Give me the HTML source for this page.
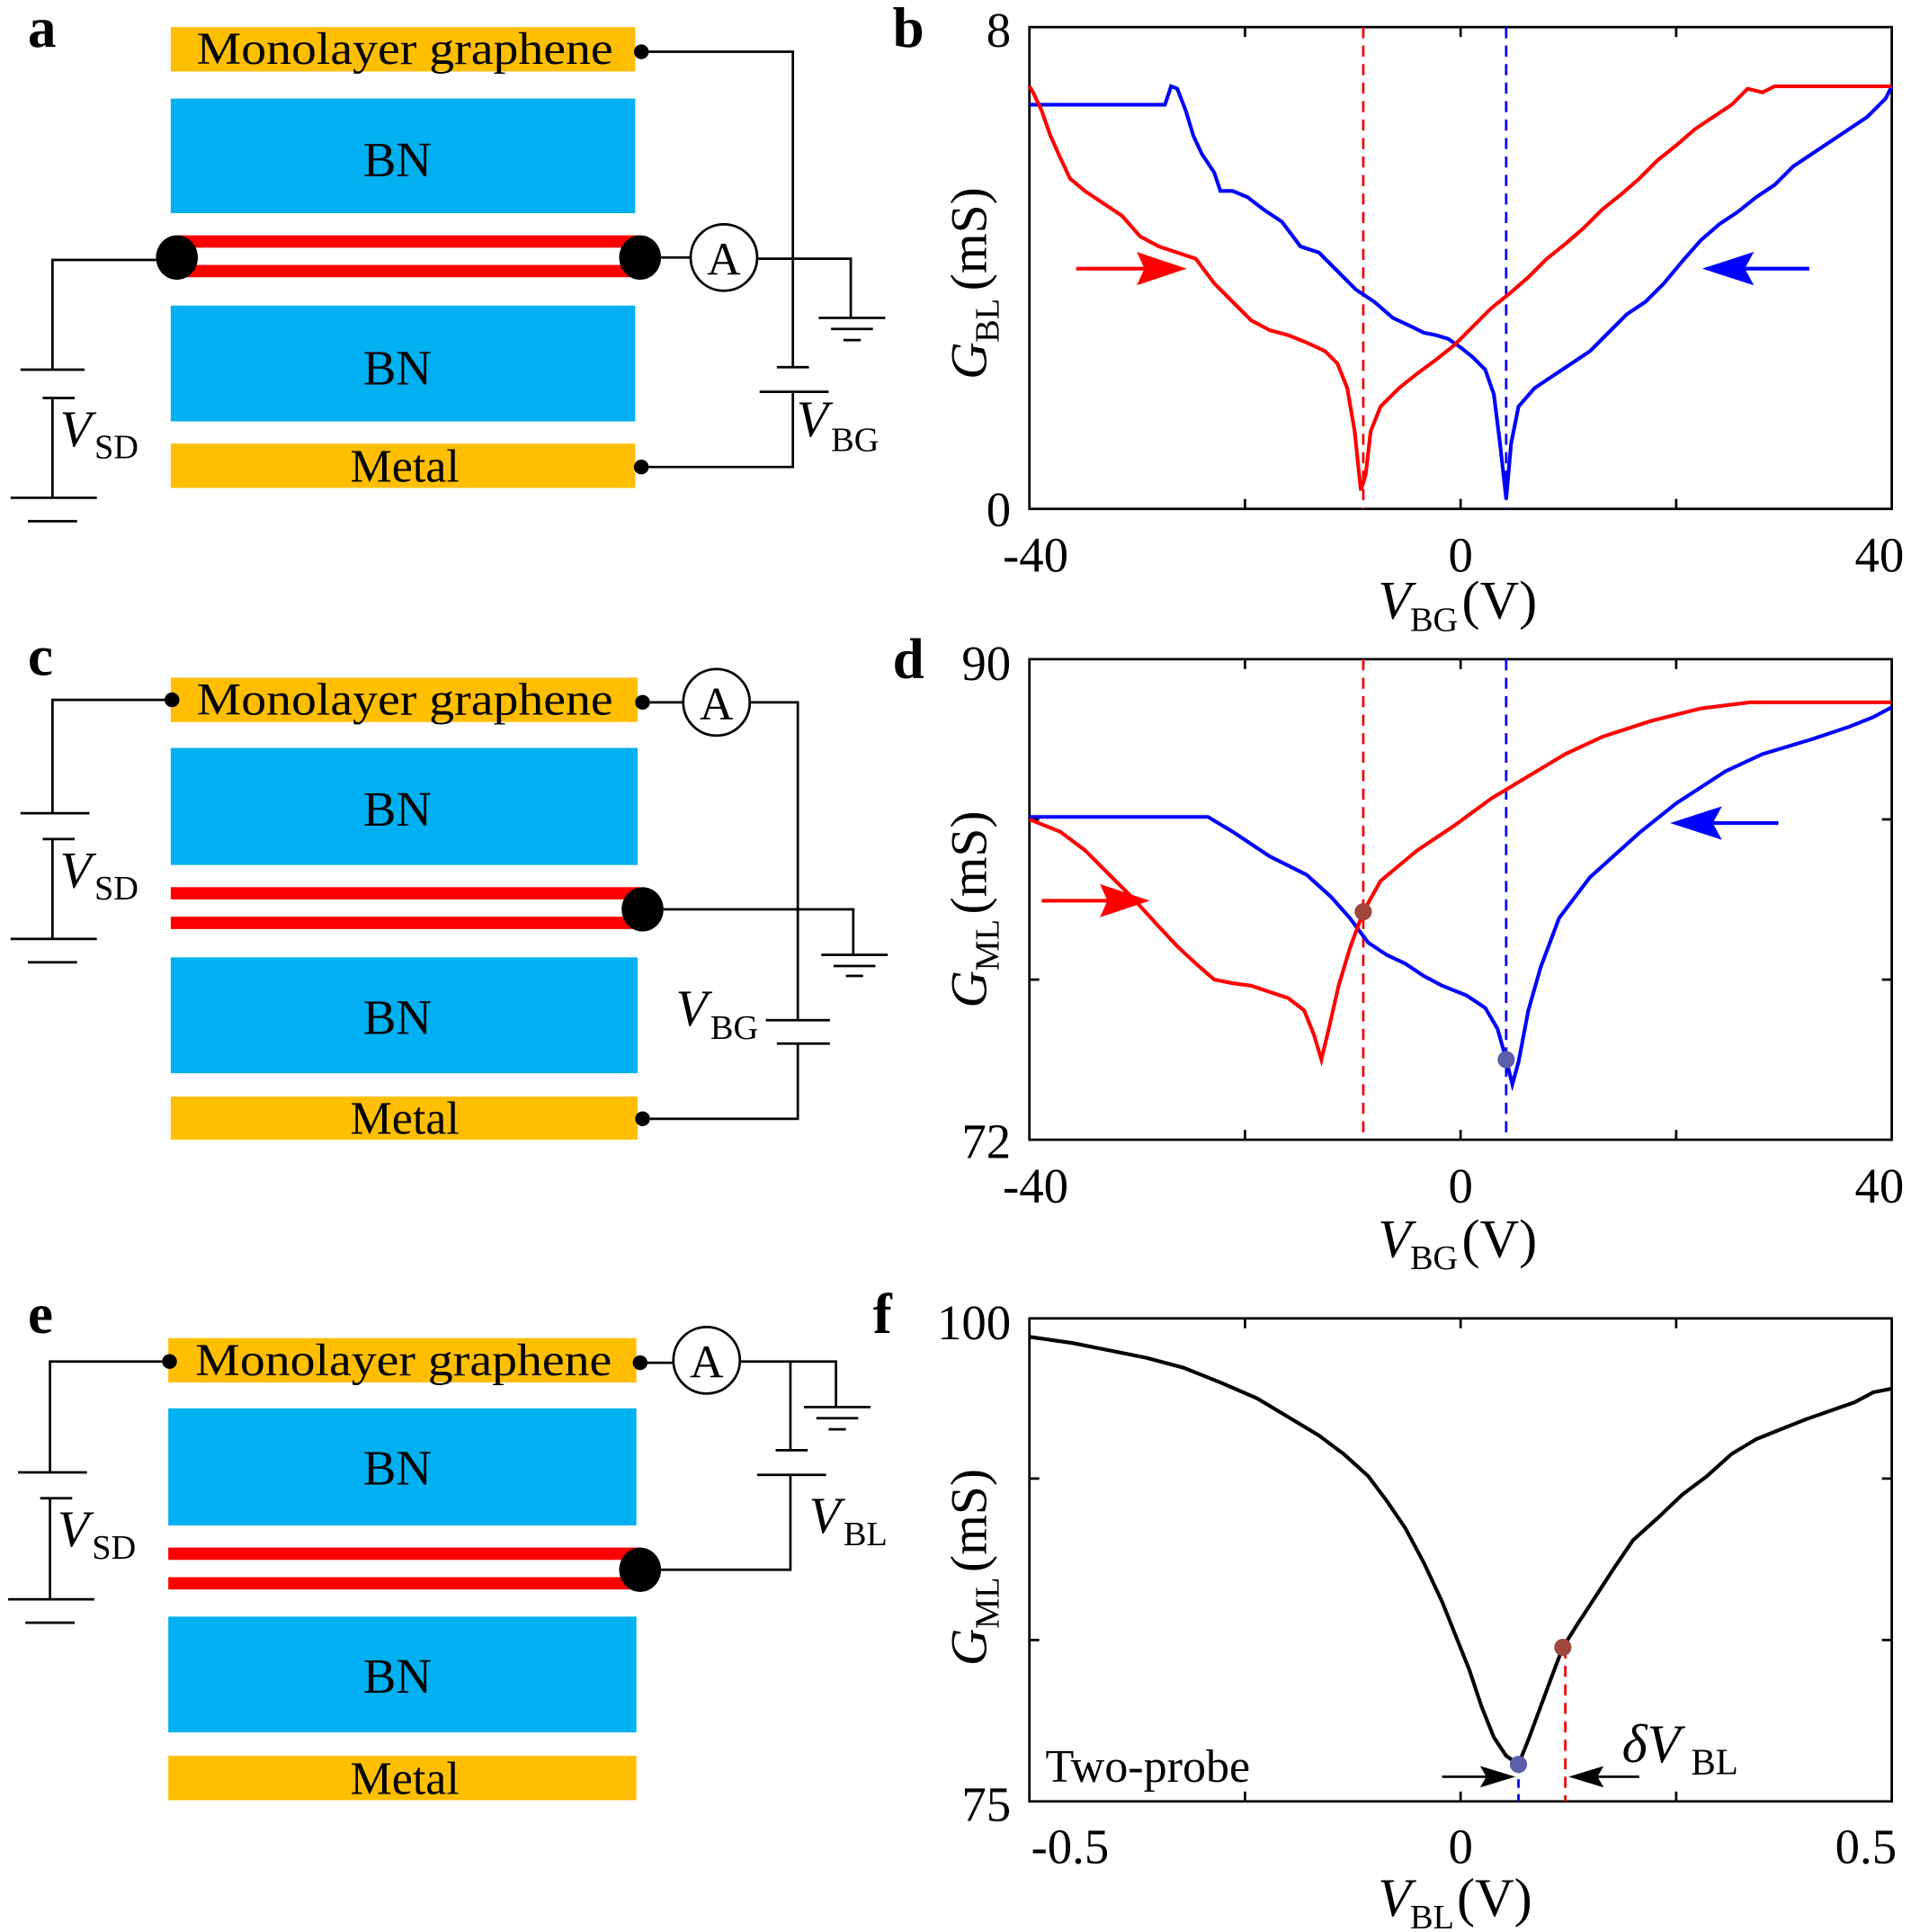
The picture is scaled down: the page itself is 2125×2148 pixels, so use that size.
<!DOCTYPE html>
<html><head><meta charset="utf-8"><style>
html,body{margin:0;padding:0;background:#fff}
svg{display:block}
text{font-family:"Liberation Serif",serif;fill:#000}
</style></head><body>
<svg width="2125" height="2148" viewBox="0 0 1550 1568" xmlns="http://www.w3.org/2000/svg">

<!-- ===== Panel a ===== -->
<text x="22" y="38" font-size="46" font-weight="bold">a</text>
<rect x="138" y="22" width="377" height="36" fill="#FFBE00"/>
<text x="328" y="52" font-size="37" text-anchor="middle" textLength="338" lengthAdjust="spacingAndGlyphs">Monolayer graphene</text>
<rect x="138" y="80" width="377" height="93" fill="#00B0F0"/>
<text x="322" y="143" font-size="40" text-anchor="middle">BN</text>
<rect x="143" y="191" width="376" height="10" fill="#F00"/>
<rect x="143" y="215" width="376" height="10" fill="#F00"/>
<ellipse cx="143" cy="209" rx="17" ry="18"/>
<ellipse cx="519" cy="209" rx="17" ry="18"/>
<rect x="138" y="248" width="377" height="94" fill="#00B0F0"/>
<text x="322" y="312" font-size="40" text-anchor="middle">BN</text>
<rect x="138" y="360" width="377" height="36" fill="#FFBE00"/>
<text x="328" y="391" font-size="38" text-anchor="middle">Metal</text>
<circle cx="520" cy="42" r="6"/>
<circle cx="520" cy="379" r="6"/>
<g stroke="#000" stroke-width="2" fill="none">
<path d="M126 211 H42 V300"/>
<path d="M16 300 H68 M34 323 H60 M42 323 V404 M8 404 H78 M22 423 H62"/>
<path d="M536 209 H560"/>
<circle cx="587" cy="209" r="27"/>
<path d="M614 210 H690 V258 M664 258 H718 M674 267 H708 M684 276 H698"/>
<path d="M526 42 H643 V298 M630 298 H656 M616 318 H672 M643 318 V379 H526"/>
</g>
<text x="587" y="223" font-size="38" text-anchor="middle">A</text>
<text x="48" y="362" font-size="42" font-style="italic">V</text><text x="76" y="372" font-size="28">SD</text>
<text x="646" y="354" font-size="42" font-style="italic">V</text><text x="674" y="366" font-size="28">BG</text>

<!-- ===== Panel c ===== -->
<text x="22" y="548" font-size="46" font-weight="bold">c</text>
<rect x="138" y="550" width="379" height="36" fill="#FFBE00"/>
<text x="328" y="580" font-size="37" text-anchor="middle" textLength="338" lengthAdjust="spacingAndGlyphs">Monolayer graphene</text>
<rect x="138" y="607" width="379" height="95" fill="#00B0F0"/>
<text x="322" y="670" font-size="40" text-anchor="middle">BN</text>
<rect x="138" y="720" width="381" height="10" fill="#F00"/>
<rect x="138" y="744" width="381" height="10" fill="#F00"/>
<ellipse cx="521" cy="738" rx="17" ry="18"/>
<rect x="138" y="777" width="379" height="94" fill="#00B0F0"/>
<text x="322" y="839" font-size="40" text-anchor="middle">BN</text>
<rect x="138" y="890" width="379" height="35" fill="#FFBE00"/>
<text x="328" y="920" font-size="38" text-anchor="middle">Metal</text>
<circle cx="139" cy="568" r="6"/>
<circle cx="521" cy="570" r="6"/>
<circle cx="521" cy="908" r="6"/>
<g stroke="#000" stroke-width="2" fill="none">
<path d="M133 568 H42 V660 M16 660 H72 M34 681 H60 M42 681 V762 M8 762 H78 M22 781 H62"/>
<path d="M527 570 H554"/>
<circle cx="581" cy="570" r="27"/>
<path d="M608 570 H647 V828 M621 828 H673 M630 847 H673 M647 847 V908 H527"/>
<path d="M538 738 H692 V775 M666 775 H720 M676 784 H710 M686 792 H700"/>
</g>
<text x="581" y="584" font-size="38" text-anchor="middle">A</text>
<text x="48" y="720" font-size="42" font-style="italic">V</text><text x="76" y="730" font-size="28">SD</text>
<text x="548" y="832" font-size="42" font-style="italic">V</text><text x="576" y="843" font-size="28">BG</text>

<!-- ===== Panel e ===== -->
<text x="22" y="1082" font-size="46" font-weight="bold">e</text>
<rect x="136" y="1086" width="380" height="36" fill="#FFBE00"/>
<text x="327" y="1116" font-size="37" text-anchor="middle" textLength="338" lengthAdjust="spacingAndGlyphs">Monolayer graphene</text>
<rect x="136" y="1143" width="380" height="95" fill="#00B0F0"/>
<text x="322" y="1205" font-size="40" text-anchor="middle">BN</text>
<rect x="136" y="1256" width="383" height="10" fill="#F00"/>
<rect x="136" y="1280" width="383" height="10" fill="#F00"/>
<ellipse cx="519" cy="1274" rx="17" ry="18"/>
<rect x="136" y="1312" width="380" height="94" fill="#00B0F0"/>
<text x="322" y="1374" font-size="40" text-anchor="middle">BN</text>
<rect x="136" y="1425" width="380" height="36" fill="#FFBE00"/>
<text x="328" y="1456" font-size="38" text-anchor="middle">Metal</text>
<circle cx="137" cy="1105" r="6"/>
<circle cx="519" cy="1106" r="6"/>
<g stroke="#000" stroke-width="2" fill="none">
<path d="M131 1105 H40 V1195 M14 1195 H70 M32 1216 H58 M40 1216 V1298 M6 1298 H76 M20 1317 H60"/>
<path d="M525 1106 H546"/>
<circle cx="573" cy="1104" r="27"/>
<path d="M600 1105 H678 V1142 M652 1142 H706 M662 1151 H696 M672 1160 H686"/>
<path d="M641 1105 V1177 M629 1177 H655 M614 1197 H670 M641 1197 V1274 H536"/>
</g>
<text x="573" y="1118" font-size="38" text-anchor="middle">A</text>
<text x="46" y="1255" font-size="42" font-style="italic">V</text><text x="74" y="1265" font-size="28">SD</text>
<text x="656" y="1244" font-size="42" font-style="italic">V</text><text x="684" y="1254" font-size="28">BL</text>

<!-- ===== Panel b ===== -->
<text x="724" y="38" font-size="46" font-weight="bold">b</text>
<g stroke="#000" stroke-width="2" fill="none">
<rect x="835" y="22" width="700" height="391"/>
<path d="M1010 413 v-8 M1185 413 v-8 M1360 413 v-8 M1010 22 v8 M1185 22 v8 M1360 22 v8"/>
</g>
<line x1="1106" y1="22" x2="1106" y2="413" stroke="#e00" stroke-width="2" stroke-dasharray="9,6"/>
<line x1="1222" y1="22" x2="1222" y2="413" stroke="#00e" stroke-width="2" stroke-dasharray="9,6"/>
<polyline fill="none" stroke="#00f" stroke-width="3" points="835,85 945,85 950,70 955,72 962,90 968,110 975,125 985,140 990,155 1000,155 1012,160 1025,170 1040,180 1055,200 1070,205 1085,220 1100,235 1115,245 1130,258 1145,265 1155,270 1165,272 1175,275 1185,282 1195,290 1205,300 1212,320 1217,360 1222,405 1226,360 1232,330 1245,315 1260,305 1275,295 1290,285 1305,270 1320,255 1335,245 1350,230 1365,212 1380,195 1395,182 1410,172 1425,160 1440,150 1455,135 1470,125 1485,115 1500,105 1515,95 1530,80 1535,70"/>
<polyline fill="none" stroke="#f00" stroke-width="3" points="835,70 838,75 845,90 852,110 860,128 868,145 880,155 895,165 910,175 925,192 940,200 955,205 970,210 985,230 1000,245 1015,260 1030,268 1045,272 1060,278 1075,285 1085,295 1093,315 1099,350 1104,398 1108,385 1112,350 1120,330 1135,315 1150,303 1165,292 1180,280 1195,265 1210,250 1225,238 1240,225 1255,210 1270,198 1285,185 1300,170 1315,158 1330,145 1345,130 1360,118 1375,105 1390,95 1405,85 1418,72 1430,75 1440,70 1535,70"/>
<g stroke="#f00" stroke-width="3" fill="#f00"><line x1="873" y1="218" x2="935" y2="218"/><polygon points="958,218 925,207 930,218 925,229"/></g>
<g stroke="#00f" stroke-width="3" fill="#00f"><line x1="1468" y1="218" x2="1410" y2="218"/><polygon points="1386,218 1420,207 1414,218 1420,229"/></g>
<text x="820" y="38" font-size="40" text-anchor="end">8</text>
<text x="820" y="427" font-size="40" text-anchor="end">0</text>
<text x="840" y="464" font-size="40" text-anchor="middle">-40</text>
<text x="1185" y="464" font-size="40" text-anchor="middle">0</text>
<text x="1525" y="464" font-size="40" text-anchor="middle">40</text>
<text x="1118" y="502" font-size="44" font-style="italic">V</text><text x="1144" y="512" font-size="28">BG</text><text x="1186" y="502" font-size="44">(V)</text>
<g transform="translate(800,308) rotate(-90)"><text font-size="42" font-style="italic">G</text><text x="30" y="10" font-size="28">BL</text><text x="72" font-size="42">(mS)</text></g>

<!-- ===== Panel d ===== -->
<text x="724" y="550" font-size="46" font-weight="bold">d</text>
<g stroke="#000" stroke-width="2" fill="none">
<rect x="835" y="535" width="700" height="390"/>
<path d="M1010 925 v-8 M1185 925 v-8 M1360 925 v-8 M1010 535 v8 M1185 535 v8 M1360 535 v8 M835 665 h8 M835 795 h8 M1535 665 h-8 M1535 795 h-8"/>
</g>
<line x1="1106" y1="535" x2="1106" y2="925" stroke="#e00" stroke-width="2" stroke-dasharray="9,6"/>
<line x1="1222" y1="535" x2="1222" y2="925" stroke="#00e" stroke-width="2" stroke-dasharray="9,6"/>
<polyline fill="none" stroke="#00f" stroke-width="3" points="835,663 980,663 1000,675 1030,695 1060,710 1080,728 1095,745 1110,765 1125,775 1140,782 1155,792 1170,800 1190,808 1205,818 1215,835 1222,860 1227,880 1232,862 1240,820 1250,785 1265,745 1290,712 1330,676 1360,652 1400,626 1430,612 1470,600 1500,590 1520,582 1535,574"/>
<polyline fill="none" stroke="#f00" stroke-width="3" points="835,665 860,675 880,690 900,710 920,730 940,752 955,768 970,782 985,795 1000,798 1015,800 1030,805 1045,810 1058,820 1066,840 1072,860 1078,835 1086,800 1095,770 1106,740 1120,715 1150,690 1180,670 1210,648 1240,630 1270,612 1300,598 1340,585 1380,575 1420,570 1535,570"/>
<circle cx="1106" cy="740" r="7" fill="#A0463C"/>
<circle cx="1222" cy="860" r="7" fill="#5B5FA8"/>
<g stroke="#f00" stroke-width="3" fill="#f00"><line x1="845" y1="731" x2="905" y2="731"/><polygon points="928,731 895,720 900,731 895,742"/></g>
<g stroke="#00f" stroke-width="3" fill="#00f"><line x1="1443" y1="668" x2="1385" y2="668"/><polygon points="1360,668 1394,657 1388,668 1394,679"/></g>
<text x="820" y="552" font-size="40" text-anchor="end">90</text>
<text x="820" y="940" font-size="40" text-anchor="end">72</text>
<text x="840" y="976" font-size="40" text-anchor="middle">-40</text>
<text x="1185" y="976" font-size="40" text-anchor="middle">0</text>
<text x="1525" y="976" font-size="40" text-anchor="middle">40</text>
<text x="1118" y="1020" font-size="44" font-style="italic">V</text><text x="1144" y="1030" font-size="28">BG</text><text x="1186" y="1020" font-size="44">(V)</text>
<g transform="translate(800,818) rotate(-90)"><text font-size="42" font-style="italic">G</text><text x="30" y="10" font-size="28">ML</text><text x="76" font-size="42">(mS)</text></g>

<!-- ===== Panel f ===== -->
<text x="708" y="1082" font-size="46" font-weight="bold">f</text>
<g stroke="#000" stroke-width="2" fill="none">
<rect x="835" y="1070" width="700" height="392"/>
<path d="M1010 1462 v-8 M1185 1462 v-8 M1360 1462 v-8 M1010 1070 v8 M1185 1070 v8 M1360 1070 v8 M835 1200 h8 M835 1331 h8 M1535 1200 h-8 M1535 1331 h-8"/>
</g>
<line x1="1232" y1="1432" x2="1232" y2="1462" stroke="#00e" stroke-width="2" stroke-dasharray="7,5"/>
<line x1="1270" y1="1337" x2="1270" y2="1462" stroke="#e00" stroke-width="2" stroke-dasharray="9,6"/>
<polyline fill="none" stroke="#000" stroke-width="3" points="835,1085 870,1090 900,1096 930,1102 960,1110 990,1122 1020,1135 1045,1150 1070,1165 1090,1180 1110,1198 1125,1218 1140,1240 1155,1268 1170,1300 1182,1330 1192,1355 1202,1385 1212,1410 1222,1425 1232,1432 1240,1412 1250,1385 1260,1358 1268,1337 1280,1318 1295,1295 1310,1272 1325,1250 1345,1232 1365,1213 1385,1198 1405,1180 1425,1168 1445,1160 1465,1152 1485,1145 1505,1138 1520,1130 1535,1127"/>
<circle cx="1232" cy="1432" r="7" fill="#5B5FA8"/>
<circle cx="1268" cy="1337" r="7" fill="#A0463C"/>
<g stroke="#000" stroke-width="2" fill="#000"><line x1="1170" y1="1442" x2="1210" y2="1442"/><polygon points="1226,1442 1203,1435 1207,1442 1203,1449"/>
<line x1="1330" y1="1442" x2="1292" y2="1442"/><polygon points="1276,1442 1299,1435 1295,1442 1299,1449"/></g>
<text x="848" y="1446" font-size="38">Two-probe</text>
<text x="1316" y="1430" font-size="44" font-style="italic">δV</text><text x="1372" y="1440" font-size="30">BL</text>
<text x="820" y="1087" font-size="40" text-anchor="end">100</text>
<text x="820" y="1478" font-size="40" text-anchor="end">75</text>
<text x="868" y="1512" font-size="40" text-anchor="middle">-0.5</text>
<text x="1185" y="1512" font-size="40" text-anchor="middle">0</text>
<text x="1514" y="1512" font-size="40" text-anchor="middle">0.5</text>
<text x="1118" y="1555" font-size="44" font-style="italic">V</text><text x="1144" y="1565" font-size="28">BL</text><text x="1182" y="1555" font-size="44">(V)</text>
<g transform="translate(800,1352) rotate(-90)"><text font-size="42" font-style="italic">G</text><text x="30" y="10" font-size="28">ML</text><text x="76" font-size="42">(mS)</text></g>
</svg>
</body></html>
